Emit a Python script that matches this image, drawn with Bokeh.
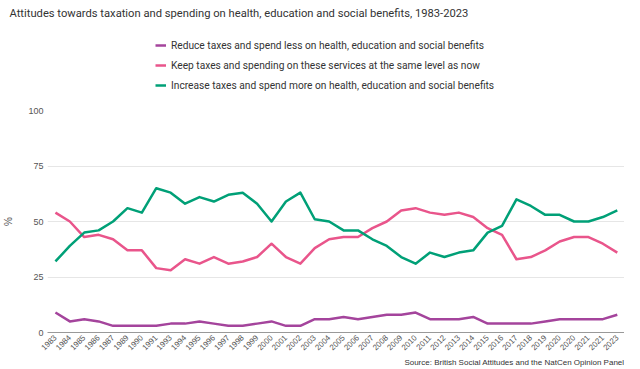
import math
from bokeh.plotting import figure
from bokeh.layouts import column
from bokeh.models import Range1d, FixedTicker, Legend, LegendItem, Label
from bokeh.embed import file_html
from bokeh.resources import INLINE

years = ["1983", "1984", "1985", "1986", "1987", "1989", "1990", "1991", "1993", "1994",
         "1995", "1996", "1997", "1998", "1999", "2000", "2001", "2002", "2003", "2004",
         "2005", "2006", "2007", "2008", "2009", "2010", "2011", "2012", "2013", "2014",
         "2015", "2016", "2017", "2018", "2019", "2020", "2020", "2021", "2021", "2023"]

reduce_vals = [9, 5, 6, 5, 3, 3, 3, 3, 4, 4,
               5, 4, 3, 3, 4, 5, 3, 3, 6, 6,
               7, 6, 7, 8, 8, 9, 6, 6, 6, 7,
               4, 4, 4, 4, 5, 6, 6, 6, 6, 8]

keep_vals = [54, 50, 43, 44, 42, 37, 37, 29, 28, 33,
             31, 34, 31, 32, 34, 40, 34, 31, 38, 42,
             43, 43, 47, 50, 55, 56, 54, 53, 54, 52,
             47, 44, 33, 34, 37, 41, 43, 43, 40, 36]

increase_vals = [32, 39, 45, 46, 50, 56, 54, 65, 63, 58,
                 61, 59, 62, 63, 58, 50, 59, 63, 51, 50,
                 46, 46, 42, 39, 34, 31, 36, 34, 36, 37,
                 45, 48, 60, 57, 53, 53, 50, 50, 52, 55]

series_names = ["Reduce taxes and spend less on health, education and social benefits",
                "Keep taxes and spending on these services at the same level as now",
                "Increase taxes and spend more on health, education and social benefits"]
series_colors = ["#a4449c", "#e9558b", "#00a077"]
y_ticks = [0, 25, 50, 75, 100]

title_text = "Attitudes towards taxation and spending on health, education and social benefits, 1983-2023"
source_text = "Source: British Social Attitudes and the NatCen Opinion Panel"

W = 624
LEFT = 39
series = [reduce_vals, keep_vals, increase_vals]
xs = list(range(len(years)))

# ---------- header: title + legend ----------
H_TOP = 105
top = figure(width=W, height=H_TOP, output_backend="svg", toolbar_location=None,
             x_range=Range1d(0, W - LEFT), y_range=Range1d(0, 100),
             x_axis_type=None, y_axis_type=None,
             min_border_left=LEFT, min_border_right=0,
             min_border_top=19, min_border_bottom=0)
top.outline_line_color = None
top.xgrid.grid_line_color = None
top.ygrid.grid_line_color = None

top.title.text = title_text
top.title.text_font = "Roboto"
top.title.text_font_size = "11.2px"
top.title.text_font_style = "normal"
top.title.text_color = "#333333"
top.title.align = "left"
top.title.offset = -38
top.title.standoff = 0

# legend keys: one-point lines (draw nothing themselves) carrying the series styles
keys = [top.line(xs[:1], vals[:1], line_color=c, line_width=2.5)
        for vals, c in zip(series, series_colors)]
legend = Legend(items=[LegendItem(label=n, renderers=[k]) for n, k in zip(series_names, keys)],
                location=(108, 10))
legend.padding = 0
legend.margin = 0
legend.spacing = 0
legend.label_height = 20
legend.glyph_height = 20
legend.glyph_width = 11
legend.label_standoff = 5
legend.label_text_font = "Roboto"
legend.label_text_font_size = "10.2px"
legend.label_text_color = "#333333"
legend.background_fill_alpha = 0
legend.border_line_alpha = 0
top.add_layout(legend, "center")

# ---------- main chart ----------
H_MAIN = 250
p = figure(width=W, height=H_MAIN, output_backend="svg", toolbar_location=None,
           x_range=Range1d(-0.55, len(years) - 0.5), y_range=Range1d(0, 100),
           min_border_left=LEFT, min_border_right=0, min_border_top=5, min_border_bottom=23)
p.outline_line_color = None

for vals, col in zip(series, series_colors):
    p.line(xs, vals, line_color=col, line_width=2.5, line_join="round")

p.xaxis.ticker = FixedTicker(ticks=xs)
p.xaxis.major_label_overrides = {i: y for i, y in enumerate(years)}
p.xaxis.major_label_orientation = math.pi / 4
p.xaxis.major_label_text_font_size = "8px"
p.xaxis.major_label_text_font = "Liberation Sans"
p.xaxis.major_label_text_color = "#555555"
p.xaxis.axis_line_color = "#999999"
p.xaxis.major_tick_line_color = None
p.xaxis.minor_tick_line_color = None
p.xaxis.major_tick_out = 0
p.xaxis.major_tick_in = 0
p.xaxis.minor_tick_out = 0
p.xaxis.major_label_standoff = 4

p.yaxis.ticker = FixedTicker(ticks=y_ticks)
p.yaxis.axis_line_color = None
p.yaxis.major_tick_line_color = None
p.yaxis.minor_tick_line_color = None
p.yaxis.major_tick_out = 0
p.yaxis.major_tick_in = 0
p.yaxis.minor_tick_out = 0
p.yaxis.major_label_text_font_size = "9px"
p.yaxis.major_label_text_font = "Liberation Sans"
p.yaxis.major_label_text_color = "#555555"
p.yaxis.major_label_standoff = 4
p.yaxis.axis_label = "%"
p.yaxis.axis_label_text_font_size = "10px"
p.yaxis.axis_label_text_font_style = "normal"
p.yaxis.axis_label_text_font = "Liberation Sans"
p.yaxis.axis_label_text_color = "#555555"
p.yaxis.axis_label_standoff = 11

p.xgrid.grid_line_color = None
p.ygrid.grid_line_color = "#e6e6e6"

# ---------- footer: source ----------
H_BOT = 13
bot = figure(width=W, height=H_BOT, output_backend="svg", toolbar_location=None,
             x_range=Range1d(0, W - LEFT), y_range=Range1d(0, 10),
             x_axis_type=None, y_axis_type=None,
             min_border_left=LEFT, min_border_right=0, min_border_top=0, min_border_bottom=0)
bot.outline_line_color = None
bot.xgrid.grid_line_color = None
bot.ygrid.grid_line_color = None
bot.add_layout(Label(x=W - LEFT, y=5, text=source_text, text_font="Liberation Sans",
                     text_font_size="8px", text_color="#333333",
                     text_baseline="middle", text_align="right"))

layout = column(top, p, bot, spacing=0)
open("out.html", "w").write(file_html(layout, INLINE))
